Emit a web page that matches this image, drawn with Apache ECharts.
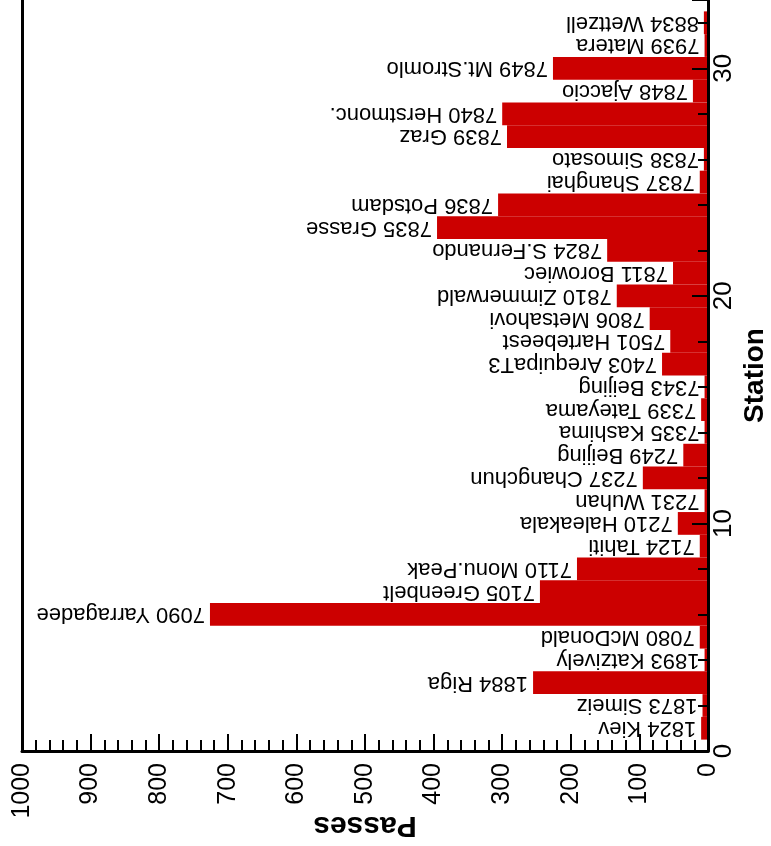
<!DOCTYPE html>
<html>
<head>
<meta charset="utf-8">
<script src="https://cdn.jsdelivr.net/npm/echarts@6/dist/echarts.min.js"></script>
<style>
html,body{margin:0;padding:0;background:#fff;}
#chart{width:771px;height:846px;}
</style>
</head>
<body>
<div id="chart"></div>
<script>
// ---- data ----
const stationNumbers = [1,2,3,4,5,6,7,8,9,10,11,12,13,14,15,16,17,18,19,20,21,22,23,24,25,26,27,28,29,30,31,32];
const stationIds = ['1824','1873','1884','1893','7080','7090','7105','7110','7124','7210','7231','7237','7249','7335','7339','7343','7403','7501','7806','7810','7811','7824','7835','7836','7837','7838','7839','7840','7848','7849','7939','8834'];
const stationNames = ['Kiev','Simeiz','Riga','Katzively','McDonald','Yarragadee','Greenbelt','Monu.Peak','Tahiti','Haleakala','Wuhan','Changchun','Beijing','Kashima','Tateyama','Beijing','ArequipaT3','Hartebeest','Metsahovi','Zimmerwald','Borowiec','S.Fernando','Grasse','Potsdam','Shanghai','Simosato','Graz','Herstmonc.','Ajaccio','Mt.Stromlo','Matera','Wettzell'];
const passes = [10,8,255,5,12,726,245,191,12,44,5,95,36,5,10,5,67,55,85,133,51,147,395,306,12,6,293,300,22,226,5,6];
const stationAxisMin = 0, stationAxisMax = 33, stationTickStep = 10;
const passesAxisMin = 0, passesAxisMax = 1000, passesTickStep = 100;

const FONT = '"Liberation Sans", Arial, Helvetica, sans-serif';
const stationCats = [];
for (let i = stationAxisMin; i <= stationAxisMax; i++) stationCats.push(String(i));
const barData = stationNumbers.map((s, i) => [passes[i], String(s)]);
const labels = stationIds.map((id, i) => id + ' ' + stationNames[i]);

const chart = echarts.init(document.getElementById('chart'), null, {renderer: 'canvas'});
chart.setOption({
  animation: false,
  backgroundColor: '#ffffff',
  grid: {left: 22, right: 63, top: 0, bottom: 95, show: false, containLabel: false, outerBoundsMode: 'none'},
  xAxis: {
    type: 'value', inverse: true, min: passesAxisMin, max: passesAxisMax, interval: passesTickStep,
    position: 'bottom', z: 10,
    axisLine: {show: true, onZero: false, lineStyle: {color: '#000', width: 3}},
    axisTick: {show: true, inside: true, length: 17, lineStyle: {color: '#000', width: 2}},
    minorTick: {show: true, splitNumber: 5, length: 11, lineStyle: {color: '#000', width: 2}},
    splitLine: {show: false}, minorSplitLine: {show: false},
    axisLabel: {rotate: 90, margin: 12, fontSize: 25, color: '#000', fontFamily: FONT, formatter: v => String(v)},
    name: 'Passes', nameLocation: 'middle', nameRotate: 180, nameGap: 59, nameMoveOverlap: false,
    nameTextStyle: {fontSize: 30, fontWeight: 'bold', color: '#000', fontFamily: FONT}
  },
  yAxis: [
    {
      type: 'category', data: stationCats, boundaryGap: false, position: 'right', show: false
    },
    {
      type: 'value', min: stationAxisMin, max: stationAxisMax, interval: stationTickStep,
      position: 'right', z: 10,
      axisLine: {show: true, onZero: false, lineStyle: {color: '#000', width: 3}},
      axisTick: {show: true, inside: true, length: 16, lineStyle: {color: '#000', width: 2}},
      minorTick: {show: true, splitNumber: 5, length: 10, lineStyle: {color: '#000', width: 2}},
      splitLine: {show: false}, minorSplitLine: {show: false},
      axisLabel: {rotate: 90, margin: 3, fontSize: 26, color: '#000', fontFamily: FONT, showMaxLabel: false},
      name: 'Station', nameLocation: 'middle', nameRotate: 90, nameGap: 33, nameMoveOverlap: false,
      nameTextStyle: {fontSize: 28, fontWeight: 'bold', color: '#000', fontFamily: FONT}
    },
    {
      type: 'value', min: stationAxisMin, max: stationAxisMax, position: 'left', z: 10,
      axisLine: {show: true, onZero: false, lineStyle: {color: '#000', width: 3}},
      axisTick: {show: false}, axisLabel: {show: false}, splitLine: {show: false}
    }
  ],
  series: [{
    type: 'bar', yAxisIndex: 0, data: barData, barWidth: '100%',
    itemStyle: {color: '#cc0000'},
    label: {
      show: true, position: 'left', rotate: 180, align: 'left', verticalAlign: 'middle',
      distance: 5, fontSize: 22, color: '#000', fontFamily: FONT,
      formatter: p => labels[p.dataIndex]
    }
  }]
});
</script>
</body>
</html>
